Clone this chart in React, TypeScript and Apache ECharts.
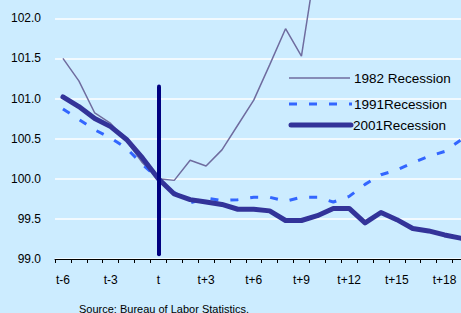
import React, { useEffect, useRef } from "react";
import * as echarts from "echarts";

const categories = [
  "t-6", "t-5", "t-4", "t-3", "t-2", "t-1", "t", "t+1", "t+2", "t+3", "t+4", "t+5", "t+6",
  "t+7", "t+8", "t+9", "t+10", "t+11", "t+12", "t+13", "t+14", "t+15", "t+16", "t+17",
  "t+18", "t+19", "t+20",
];

const recession1982 = [
  101.5, 101.22, 100.82, 100.69, 100.47, 100.2, 100.0, 99.98, 100.23, 100.16, 100.36,
  100.67, 100.98, 101.42, 101.87, 101.53, 102.8,
];

const recession1991 = [
  100.87, 100.74, 100.61, 100.51, 100.38, 100.18, 100.0, 99.83, 99.7, 99.76, 99.73, 99.74,
  99.77, 99.77, 99.72, 99.77, 99.77, 99.71, 99.78, 99.93, 100.05, 100.11, 100.2, 100.28,
  100.34, 100.48,
];

const recession2001 = [
  101.02, 100.9, 100.75, 100.65, 100.49, 100.26, 100.0, 99.81, 99.74, 99.71, 99.68, 99.62,
  99.62, 99.6, 99.48, 99.48, 99.54, 99.63, 99.63, 99.45, 99.58, 99.49, 99.38, 99.35, 99.3,
  99.26,
];

const seriesNames = ["1982 Recession", "1991Recession", "2001Recession"];
const yTicks = { min: 99, max: 102.5, interval: 0.5, lastShown: 102 };
const markerCategory = "t";
const markerRange = [101.15, 99.06];
const sourceNote = "Source: Bureau of Labor Statistics.";

const FONT = "'Liberation Sans', Arial, sans-serif";
const C1982 = "#6F6C9F";
const C1991 = "#3366FF";
const C2001 = "#333399";
const OY = 30; // the chart canvas starts above the visible page

export default function App() {
  const ref = useRef<HTMLDivElement>(null);
  useEffect(() => {
    if (!ref.current) return;
    const chart = echarts.init(ref.current, null, { renderer: "svg" });
    chart.setOption({
      animation: false,
      backgroundColor: "#CCECFF",
      grid: { left: 55, width: 429.3, top: OY - 21.8, bottom: 54, containLabel: false },
      xAxis: {
        type: "category",
        data: categories,
        boundaryGap: true,
        axisLine: { show: true, lineStyle: { color: "#000", width: 1 } },
        axisTick: { show: true, interval: 0, length: 4, lineStyle: { color: "#000" } },
        axisLabel: {
          interval: 2,
          margin: 15,
          color: "#000",
          fontFamily: FONT,
          fontSize: 12,
        },
        splitLine: { show: false },
      },
      yAxis: {
        type: "value",
        min: yTicks.min,
        max: yTicks.max,
        interval: yTicks.interval,
        axisLine: { show: false },
        axisTick: { show: false },
        axisLabel: {
          margin: 14,
          color: "#000",
          fontFamily: FONT,
          fontSize: 12,
          formatter: (v: number) => (v > yTicks.lastShown ? "" : v.toFixed(1)),
        },
        splitLine: { show: true, lineStyle: { color: "#FFFFFF", width: 1.5 } },
      },
      series: [
        {
          name: seriesNames[0],
          type: "line",
          data: recession1982,
          symbol: "none",
          lineStyle: { color: C1982, width: 1.5 },
          z: 2,
        },
        {
          name: seriesNames[1],
          type: "line",
          data: recession1991,
          symbol: "none",
          lineStyle: { color: C1991, width: 3, type: [8, 12] },
          z: 3,
        },
        {
          name: seriesNames[2],
          type: "line",
          data: recession2001,
          symbol: "none",
          lineStyle: { color: C2001, width: 5, cap: "round", join: "round" },
          z: 4,
          markLine: {
            silent: true,
            symbol: "none",
            label: { show: false },
            lineStyle: { color: "#000080", width: 4, type: "solid", cap: "round" },
            data: [
              [
                { coord: [markerCategory, markerRange[0]] },
                { coord: [markerCategory, markerRange[1]] },
              ],
            ],
          },
        },
      ],
      graphic: [
        {
          type: "line",
          shape: { x1: 289, y1: OY + 78, x2: 350, y2: OY + 78 },
          style: { stroke: C1982, lineWidth: 1.5 },
        },
        {
          type: "text",
          x: 354,
          y: OY + 78,
          style: {
            text: seriesNames[0],
            font: `13.5px ${FONT}`,
            fill: "#000",
            verticalAlign: "middle",
          },
        },
        {
          type: "line",
          shape: { x1: 289, y1: OY + 104, x2: 352, y2: OY + 104 },
          style: { stroke: C1991, lineWidth: 3, lineDash: [8, 12] },
        },
        {
          type: "text",
          x: 354,
          y: OY + 104,
          style: {
            text: seriesNames[1],
            font: `13.5px ${FONT}`,
            fill: "#000",
            verticalAlign: "middle",
          },
        },
        {
          type: "line",
          shape: { x1: 291, y1: OY + 125, x2: 351, y2: OY + 125 },
          style: { stroke: C2001, lineWidth: 5, lineCap: "round" },
        },
        {
          type: "text",
          x: 353,
          y: OY + 125,
          style: {
            text: seriesNames[2],
            font: `13.5px ${FONT}`,
            fill: "#000",
            verticalAlign: "middle",
          },
        },
        {
          type: "text",
          x: 79,
          y: OY + 303,
          style: { text: sourceNote, font: `11px ${FONT}`, fill: "#000" },
        },
      ],
    });
    return () => chart.dispose();
  }, []);
  return (
    <div
      ref={ref}
      style={{ position: "fixed", left: 0, top: -OY, width: 501, height: 313 + OY }}
    />
  );
}
